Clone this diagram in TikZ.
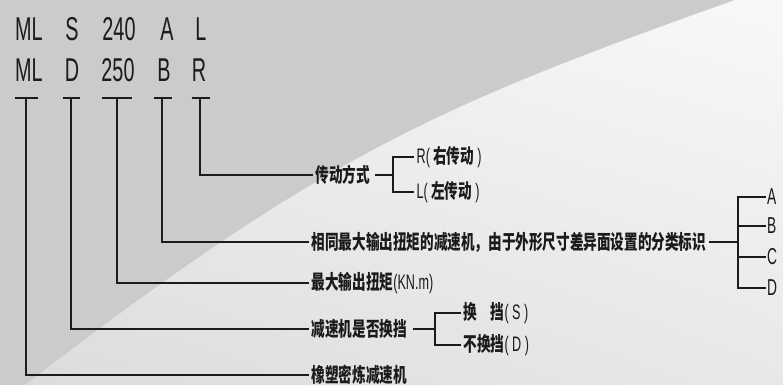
\documentclass[tikz,border=0pt]{standalone}
\usepackage{fontspec}
\usetikzlibrary{shadings}
\newfontfamily\cjk[FakeStretch=0.68]{Noto Sans CJK SC}
\newfontfamily\lat[FakeStretch=0.6]{Liberation Sans}
\newcommand\latsm[1]{{\lat\mdseries\fontsize{21}{22}\selectfont #1}}
\definecolor{bgdark}{HTML}{CBCBCB}
\definecolor{inkc}{HTML}{1C1A1A}
\definecolor{shUL}{HTML}{F0F0F0}
\definecolor{shUR}{HTML}{F8F8F8}
\definecolor{shLL}{HTML}{DCDCDC}
\definecolor{shLR}{HTML}{E8E8E8}
\begin{document}
\begin{tikzpicture}[x=1pt,y=-1pt,
  ln/.style={line width=1.8pt, draw=inkc},
  bar/.style={line width=2.2pt, draw=inkc},
  big/.style={font=\lat\fontsize{33}{36}\selectfont, inner sep=0pt, text=inkc},
  lbl/.style={anchor=west, inner sep=2.5pt, font=\cjk\bfseries\fontsize{20}{22}\selectfont, text=inkc},
  opt/.style={anchor=west, inner sep=1pt, font=\lat\fontsize{23}{26}\selectfont, text=inkc}]
\useasboundingbox (0,0) rectangle (783,385);
% background
\fill[bgdark] (0,0) rectangle (783,385);
\shade[upper left=shUL, upper right=shUR, lower left=shLL, lower right=shLR]
  (735,0) .. controls (440,105) and (325,154) .. (25,385) -- (783,385) -- (783,0) -- cycle;

% code rows
\node[big] (m1) at (29,29) {ML};
\node[big] (s1) at (72,29) {S};
\node[big] (n1) at (119,29) {240};
\node[big] (a1) at (167,29) {A};
\node[big] (l1) at (201,29) {L};
\node[big] (m2) at (29,70) {ML};
\node[big] (d2) at (72,70) {D};
\node[big] (n2) at (118,70) {250};
\node[big] (b2) at (164,70) {B};
\node[big] (r2) at (199,70) {R};

% T tops
\coordinate (t1) at (26,97.7);
\coordinate (t2) at (71,97.7);
\coordinate (t3) at (117,97.7);
\coordinate (t4) at (162,97.7);
\coordinate (t5) at (200,97.7);

% labels
\node[lbl] (cd) at (313,175) {传动方式};
\node[lbl] (rR) at (414,157) {\latsm{R(}\,右传动\,\latsm{)}};
\node[lbl] (rL) at (414,192) {\latsm{L(}\,左传动\,\latsm{)}};
\node[lbl] (cls) at (309,242) {相同最大输出扭矩的减速机，由于外形尺寸差异面设置的分类标识};
\node[opt] (oA) at (766,197) {A};
\node[opt] (oB) at (766,226) {B};
\node[opt] (oC) at (766,257) {C};
\node[opt] (oD) at (766,288) {D};
\node[lbl] (tq) at (309,283) {最大输出扭矩\latsm{(KN.m)}};
\node[lbl] (hd) at (309,329) {减速机是否换挡};
\node[lbl] (hS) at (461,313) {换　挡\latsm{(\,S\,)}};
\node[lbl] (hD) at (461,345) {不换挡\latsm{(\,D\,)}};
\node[lbl] (nm) at (309,375) {橡塑密炼减速机};

% bracket joints
\coordinate (k1) at (393,175);
\coordinate (k2) at (738,242);
\coordinate (k3) at (435,329);

% main connectors
\draw[ln] (t5) |- (cd.west);
\draw[ln] (t4) |- (cls.west);
\draw[ln] (t3) |- (tq.west);
\draw[ln] (t2) |- (hd.west);
\draw[ln] (t1) |- (nm.west);

% T bars
\draw[bar] ([xshift=-11.5pt]t1) -- ([xshift=11.5pt]t1);
\draw[bar] ([xshift=-8.5pt]t2) -- ([xshift=9pt]t2);
\draw[bar] ([xshift=-15pt]t3) -- ([xshift=15pt]t3);
\draw[bar] ([xshift=-8.5pt]t4) -- ([xshift=10pt]t4);
\draw[bar] ([xshift=-8.5pt]t5) -- ([xshift=10pt]t5);

% bracket 1
\draw[ln] ([xshift=2pt]cd.east) -- (k1);
\draw[ln] (rR.west) -| (k1) |- (rL.west);
% bracket 2
\draw[ln] (cls.east) -- (k2);
\draw[ln] (oA.west) -| (k2) |- (oD.west);
\draw[ln] (oB.west) -- (oB.west -| k2);
\draw[ln] (oC.west) -- (oC.west -| k2);
% bracket 3
\draw[ln] ([xshift=3pt]hd.east) -- (k3);
\draw[ln] (hS.west) -| (k3) |- (hD.west);
\end{tikzpicture}
\end{document}
